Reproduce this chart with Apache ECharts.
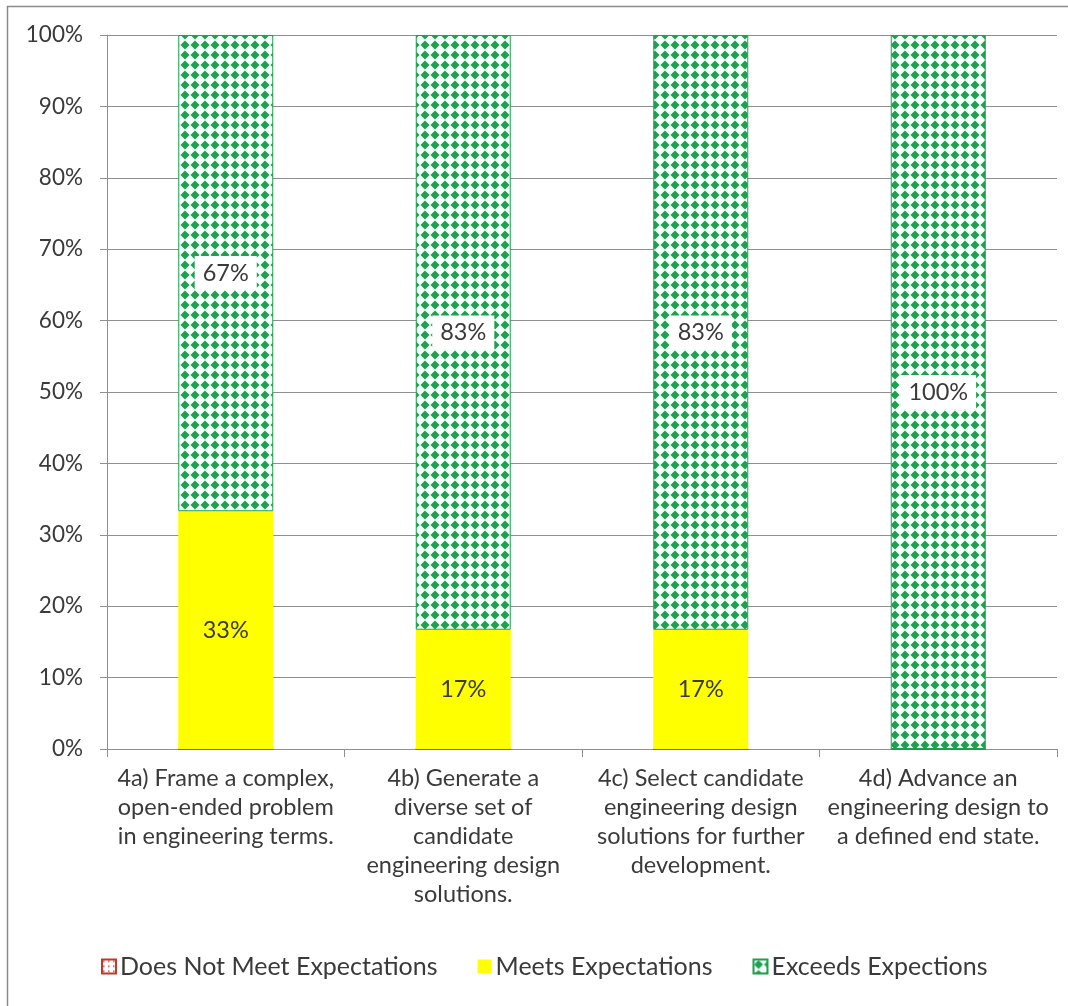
<!DOCTYPE html>
<html>
<head>
<meta charset="utf-8">
<script src="https://cdn.jsdelivr.net/npm/echarts@6/dist/echarts.min.js"></script>
<style>
html,body{margin:0;padding:0;background:#fff;}
#chart{width:1068px;height:1006px;}
</style>
</head>
<body>
<div id="chart"></div>
<script>
const categories = [
  "4a) Frame a complex,\nopen-ended problem\nin engineering terms.",
  "4b) Generate a\ndiverse set of\ncandidate\nengineering design\nsolutions.",
  "4c) Select candidate\nengineering design\nsolutions for further\ndevelopment.",
  "4d) Advance an\nengineering design to\na defined end state."
];
const seriesNames = ["Does Not Meet Expectations", "Meets Expectations", "Exceeds Expections"];
const doesNotMeet = [0, 0, 0, 0];
const meets = [33.3, 16.7, 16.7, 0];
const exceeds = [66.7, 83.3, 83.3, 100];
const yTicks = [0, 10, 20, 30, 40, 50, 60, 70, 80, 90, 100];

const FONT = "Lato";
const GREEN = "#1f9f4f";
const GRID = "#8f8f8f";
const TEXT = "#3a3a3a";

function diamondPattern(color) {
  const s = 10;
  const c = document.createElement('canvas');
  c.width = s; c.height = s;
  const g = c.getContext('2d');
  g.fillStyle = '#f4fffa';
  g.fillRect(0, 0, s, s);
  g.fillStyle = color;
  const r = 4.5;
  const x = s / 2, y = s / 2;
  g.beginPath();
  g.moveTo(x, y - r); g.lineTo(x + r, y); g.lineTo(x, y + r); g.lineTo(x - r, y);
  g.closePath(); g.fill();
  return c;
}
function dotPattern(color) {
  const s = 5;
  const c = document.createElement('canvas');
  c.width = s; c.height = s;
  const g = c.getContext('2d');
  g.fillStyle = '#ffffff';
  g.fillRect(0, 0, s, s);
  g.fillStyle = color;
  g.fillRect(1, 1, 1.5, 1.5);
  return c;
}

const chart = echarts.init(document.getElementById('chart'), null, {renderer: 'canvas'});
const pct = p => Math.round(p.value) + '%';

chart.setOption({
  backgroundColor: '#ffffff',
  animation: false,
  textStyle: {fontFamily: FONT},
  graphic: [{
    type: 'rect',
    shape: {x: 7.5, y: 6.5, width: 1200, height: 1200},
    style: {fill: 'none', stroke: '#8a8a8a', lineWidth: 1.5},
    silent: true, z: -1
  }],
  grid: {left: 107, right: 11, top: 35, bottom: 257, containLabel: false},
  legend: {
    bottom: 22,
    left: 96,
    itemWidth: 14, itemHeight: 14,
    itemGap: 40,
    icon: 'rect',
    textStyle: {fontFamily: FONT, fontSize: 25, color: TEXT, padding: [0, 0, 0, -1]},
    data: seriesNames
  },
  xAxis: {
    type: 'category',
    data: categories,
    axisLine: {lineStyle: {color: GRID, width: 1}},
    axisTick: {show: true, length: 8, lineStyle: {color: GRID}},
    axisLabel: {
      interval: 0, fontFamily: FONT, fontSize: 23.5, color: TEXT,
      lineHeight: 29, margin: 15, align: 'center'
    }
  },
  yAxis: {
    type: 'value',
    min: 0, max: 100, interval: 10,
    axisLine: {show: true, lineStyle: {color: GRID, width: 1}},
    axisTick: {show: true, length: 7, lineStyle: {color: GRID}},
    splitLine: {lineStyle: {color: GRID, width: 1}},
    axisLabel: {
      fontFamily: FONT, fontSize: 22.5, color: TEXT, margin: 24,
      formatter: v => (yTicks.includes(v) ? v + '%' : '')
    }
  },
  series: [
    {
      name: seriesNames[0], type: 'bar', stack: 'all', barWidth: '40%',
      data: doesNotMeet,
      itemStyle: {color: {image: dotPattern('#d03030'), repeat: 'repeat'}, borderColor: '#c0392b', borderWidth: 1}
    },
    {
      name: seriesNames[1], type: 'bar', stack: 'all', barWidth: '40%',
      data: meets,
      itemStyle: {color: '#ffff00'},
      label: {
        show: true, position: 'inside', fontFamily: FONT, fontSize: 23.5, color: TEXT,
        formatter: p => (p.value > 0 ? pct(p) : '')
      }
    },
    {
      name: seriesNames[2], type: 'bar', stack: 'all', barWidth: '40%',
      data: exceeds,
      itemStyle: {color: {image: diamondPattern(GREEN), repeat: 'repeat'}, borderColor: GREEN, borderWidth: 1},
      label: {
        show: true, position: 'inside', fontFamily: FONT, fontSize: 23.5, color: TEXT,
        backgroundColor: '#ffffff', padding: [6, 8, 4, 8],
        formatter: p => (p.value > 0 ? pct(p) : '')
      }
    }
  ]
});
</script>
</body>
</html>
